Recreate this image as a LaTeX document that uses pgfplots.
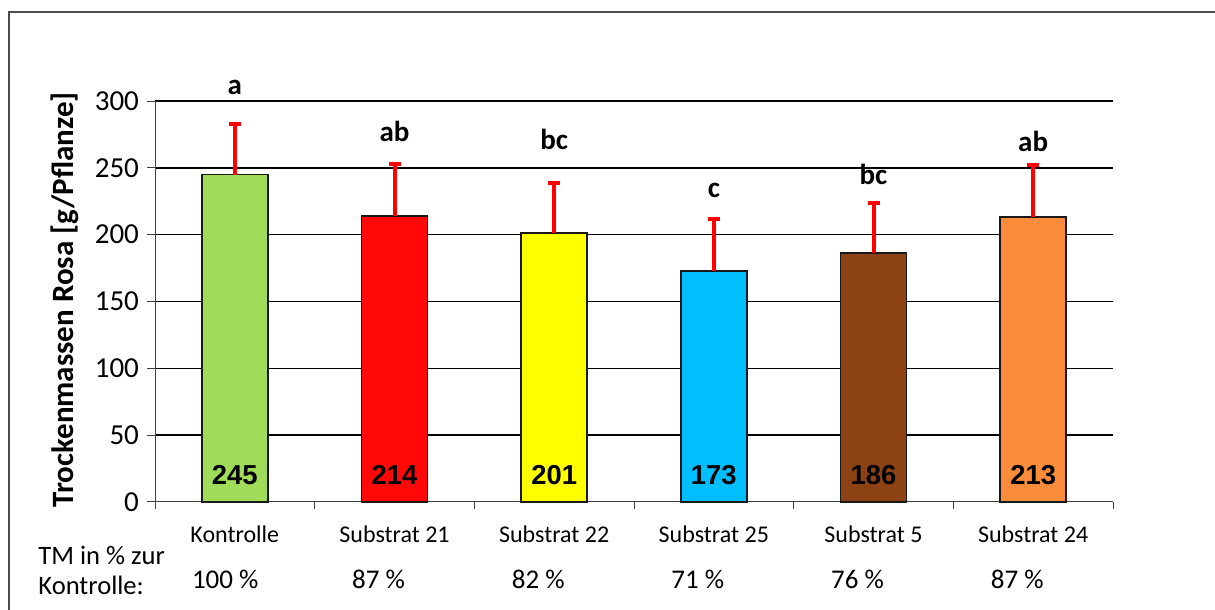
\documentclass[border=0pt]{standalone}
\usepackage{fontspec}
\setmainfont{Carlito}
\newfontfamily\arialfont{Liberation Sans}
\usepackage{pgfplots}
\pgfplotsset{compat=1.18}
\definecolor{cgreen}{RGB}{160,220,90}
\definecolor{cred}{RGB}{255,8,8}
\definecolor{cyellow}{RGB}{255,255,0}
\definecolor{ccyan}{RGB}{0,190,255}
\definecolor{cbrown}{RGB}{140,66,20}
\definecolor{corange}{RGB}{250,140,60}
\pgfplotsset{
  errbar/.style={
    error bars/.cd, y dir=plus, y explicit,
    error bar style={red, line width=2pt},
    error mark options={rotate=90, red, line width=2pt, mark size=3pt}
  },
  barst/.style={ybar, bar width=33pt, draw=black!90, line width=0.9pt, fill=#1}
}
\begin{document}
\begin{tikzpicture}
\path[use as bounding box] (0,0) rectangle (607.5pt,305pt);
\draw[line width=0.8pt, black!70] (4.5pt,-1pt) -- (4.5pt,299pt) -- (608pt,299pt);
\begin{axis}[
  at={(77.5pt,54pt)}, anchor=south west,
  scale only axis, width=479pt, height=200.5pt,
  xmin=-0.5, xmax=5.5, ymin=0, ymax=300,
  ytick={50,100,...,300},
  extra y ticks={0},
  extra y tick style={grid=none},
  xtick={0,...,5},
  xticklabels={Kontrolle, Substrat 21, Substrat 22, Substrat 25, Substrat 5, Substrat 24},
  minor xtick={-0.5,0.5,...,5.5},
  axis x line*=bottom, axis y line*=left,
  axis line style={-, black!75, line width=0.5pt},
  ymajorgrids, grid style={black, line width=0.8pt},
  tick align=outside,
  major tick length=4pt, minor tick length=3.5pt,
  major x tick style={draw=none},
  minor x tick style={black!75, line width=0.5pt},
  ytick style={black!75, line width=0.5pt},
  /pgf/number format/assume math mode=true,
  yticklabel style={font=\fontsize{14.5}{16}\selectfont, xshift=-0.5pt},
  xticklabel style={font=\fontsize{12}{14}\selectfont, yshift=-4.5pt},
  clip=false,
]
\addplot[barst=cgreen, errbar] coordinates {(0,245) +- (0,38)};
\addplot[barst=cred, errbar] coordinates {(1,214) +- (0,39)};
\addplot[barst=cyellow, errbar] coordinates {(2,201) +- (0,38)};
\addplot[barst=ccyan, errbar] coordinates {(3,173) +- (0,39)};
\addplot[barst=cbrown, errbar] coordinates {(4,186) +- (0,38)};
\addplot[barst=corange, errbar] coordinates {(5,213) +- (0,39)};

\begin{scope}[every node/.style={font=\arialfont\bfseries\fontsize{13.7}{15}\selectfont}]
\node at (axis cs:0,20) {245};
\node at (axis cs:1,20) {214};
\node at (axis cs:2,20) {201};
\node at (axis cs:3,20) {173};
\node at (axis cs:4,20) {186};
\node at (axis cs:5,20) {213};
\end{scope}

\begin{scope}[every node/.style={font=\bfseries\fontsize{14.5}{16}\selectfont}]
\node at (axis cs:0,310) {a};
\node at (axis cs:1,277) {ab};
\node at (axis cs:2,271) {bc};
\node at (axis cs:3,233) {c};
\node at (axis cs:4,245) {bc};
\node at (axis cs:5,270) {ab};
\end{scope}

\begin{scope}[every node/.style={font=\fontsize{13.5}{15}\selectfont}]
\node at (axis cs:-0.06,-58) {100 \%};
\node at (axis cs:0.9,-58) {87 \%};
\node at (axis cs:1.9,-58) {82 \%};
\node at (axis cs:2.9,-58) {71 \%};
\node at (axis cs:3.9,-58) {76 \%};
\node at (axis cs:4.9,-58) {87 \%};
\end{scope}
\end{axis}
\node[rotate=90, font=\bfseries\fontsize{15.5}{17}\selectfont] at (32.5pt,155pt) {Trockenmassen Rosa [g/Pflanze]};
\node[anchor=west, align=left, font=\fontsize{13.3}{15}\selectfont, inner sep=0pt] at (19pt,20pt) {TM in \% zur\\Kontrolle:};
\end{tikzpicture}
\end{document}
